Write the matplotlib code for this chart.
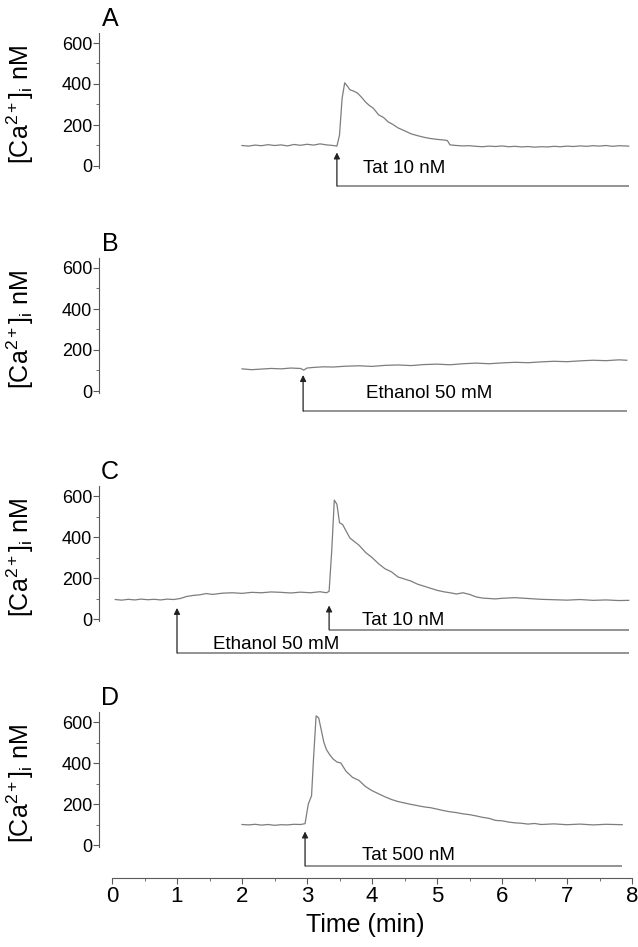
import matplotlib
matplotlib.use("Agg")
import matplotlib.pyplot as plt
from matplotlib.ticker import MultipleLocator, FixedLocator

plt.rcParams['font.family'] = ['Liberation Sans', 'DejaVu Sans']
plt.rcParams['mathtext.fontset'] = 'custom'
plt.rcParams['mathtext.rm'] = 'Liberation Sans'
plt.rcParams['mathtext.it'] = 'Liberation Sans:italic'

# traces, [Ca2+]i in nM against time in min
tA = [2.0, 2.1, 2.2, 2.3, 2.4, 2.5, 2.6, 2.7, 2.8, 2.9, 3.0, 3.1, 3.2, 3.3, 3.4, 3.46,
      3.5, 3.54, 3.58, 3.62, 3.66, 3.72, 3.78, 3.84, 3.9, 3.96, 4.02, 4.1, 4.18, 4.25,
      4.32, 4.4, 4.5, 4.6, 4.7, 4.8, 4.9, 5.0, 5.1, 5.16, 5.2, 5.3, 5.4, 5.5, 5.6, 5.7,
      5.8, 5.9, 6.0, 6.1, 6.2, 6.3, 6.4, 6.5, 6.6, 6.7, 6.8, 6.9, 7.0, 7.1, 7.2, 7.3,
      7.4, 7.5, 7.6, 7.7, 7.8, 7.95]
cA = [100, 97, 102, 99, 104, 100, 103, 98, 105, 101, 106, 102, 108, 103, 100, 97,
      150, 330, 406, 390, 372, 365, 355, 335, 312, 295, 282, 250, 236, 215,
      203, 186, 172, 157, 148, 140, 134, 130, 127, 124, 103, 100, 98, 99, 96, 94,
      97, 95, 98, 94, 96, 93, 95, 92, 94, 93, 96, 94, 97, 95, 98, 96,
      99, 97, 100, 96, 99, 97]

tB = [2.0, 2.15, 2.3, 2.45, 2.6, 2.75, 2.9, 2.95, 3.0, 3.1, 3.25, 3.4, 3.6, 3.8, 4.0,
      4.2, 4.4, 4.6, 4.8, 5.0, 5.2, 5.4, 5.6, 5.8, 6.0, 6.2, 6.4, 6.6, 6.8, 7.0, 7.2,
      7.4, 7.6, 7.8, 7.92]
cB = [108, 104, 107, 110, 108, 112, 110, 102, 112, 115, 118, 117, 121, 123, 120,
      125, 127, 124, 129, 131, 128, 133, 136, 133, 137, 140, 138, 142, 145, 143, 147,
      150, 148, 152, 150]

tC = [0.05, 0.15, 0.25, 0.35, 0.45, 0.55, 0.65, 0.75, 0.85, 0.95, 1.05, 1.15, 1.25,
      1.35, 1.45, 1.55, 1.7, 1.85, 2.0, 2.15, 2.3, 2.45, 2.6, 2.75, 2.9, 3.05, 3.2,
      3.3, 3.34, 3.38, 3.42, 3.46, 3.5, 3.55, 3.6, 3.66, 3.72, 3.8, 3.9, 4.0, 4.1,
      4.2, 4.3, 4.4, 4.5, 4.6, 4.7, 4.8, 4.9, 5.0, 5.1, 5.2, 5.3, 5.4, 5.5, 5.6, 5.7,
      5.8, 5.9, 6.0, 6.2, 6.4, 6.6, 6.8, 7.0, 7.2, 7.4, 7.6, 7.8, 7.95]
cC = [95, 92, 96, 93, 97, 94, 96, 93, 97, 95, 100, 110, 115, 118, 124, 120, 126, 128,
      125, 130, 128, 132, 130, 127, 131, 128, 133, 128, 135, 330, 580, 560, 470, 460,
      430, 395, 380, 360, 325, 300, 270, 245, 230, 205, 195, 185, 170, 160, 150, 140,
      133, 128, 122, 128, 120, 108, 102, 100, 98, 101, 104, 100, 96, 94, 92, 95, 91,
      93, 90, 91]

tD = [2.0, 2.1, 2.2, 2.3, 2.4, 2.5, 2.6, 2.7, 2.8, 2.9, 2.97, 3.02, 3.07, 3.1, 3.14,
      3.18, 3.22, 3.26, 3.3, 3.35, 3.4, 3.46, 3.52, 3.6, 3.7, 3.8, 3.9, 4.0, 4.1, 4.2,
      4.3, 4.4, 4.5, 4.6, 4.7, 4.8, 4.9, 5.0, 5.1, 5.2, 5.3, 5.4, 5.5, 5.6, 5.7, 5.8,
      5.9, 6.0, 6.1, 6.2, 6.3, 6.4, 6.5, 6.6, 6.8, 7.0, 7.2, 7.4, 7.6, 7.85]
cD = [100, 98, 101, 97, 100, 96, 99, 98, 101, 100, 104, 200, 240, 420, 630, 620, 560,
      500, 465, 440, 420, 405, 400, 360, 330, 315, 285, 265, 250, 235, 222, 212, 205,
      198, 192, 186, 182, 175, 168, 162, 158, 152, 148, 142, 135, 130, 120, 118, 112,
      108, 106, 102, 105, 100, 103, 99, 102, 98, 101, 99]

panel_letters = ['A', 'B', 'C', 'D']
traces = [(tA, cA), (tB, cB), (tC, cC), (tD, cD)]

# stimuli: (label, start, end, level of bar, arrow tip, label x, label y)
stimA = [('Tat 10 nM', 3.46, 7.95, -98, 66, 3.86, -10)]
stimB = [('Ethanol 50 mM', 2.94, 7.92, -98, 78, 3.9, -10)]
stimC = [('Tat 10 nM', 3.34, 7.95, -52, 66, 3.85, -5),
         ('Ethanol 50 mM', 1.0, 7.95, -166, 54, 1.55, -125)]
stimD = [('Tat 500 nM', 2.97, 7.85, -102, 66, 3.85, -49)]
stims = [stimA, stimB, stimC, stimD]

zero_px = [166, 391, 619, 845]
ppn = 0.205            # pixels per nM
ylo, yhi = -200, 660
W, H = 638, 947

trace_col = '#7d7d7d'
bar_col = '#8a8a8a'
axis_col = '#5a5a5a'

fig = plt.figure(figsize=(W / 100, H / 100), dpi=100)

for i in range(4):
    h = (yhi - ylo) * ppn
    bottom = 1 - (zero_px[i] - ylo * ppn) / H
    ax = fig.add_axes([99 / W, bottom, 533 / W, h / H])
    ax.set_xlim(-0.2, 8.0)
    ax.set_ylim(ylo, yhi)
    ax.patch.set_alpha(0)

    t, c = traces[i]
    ax.plot(t, c, color=trace_col, lw=0.9)

    for lab, t0, t1, lev, tip, lx, ly in stims[i]:
        ax.plot([t0, t1], [lev, lev], color=bar_col, lw=1.3, solid_capstyle='butt')
        ax.annotate('', xy=(t0, tip), xytext=(t0, lev),
                    arrowprops=dict(arrowstyle='-|>', color='#222222', lw=0.9,
                                    mutation_scale=9, shrinkA=0, shrinkB=0))
        ax.text(lx, ly, lab, fontsize=13.5, va='center', ha='left')

    ax.text(-0.03, 716, panel_letters[i], fontsize=18, ha='center', va='center')

    for s in ['top', 'right']:
        ax.spines[s].set_visible(False)
    ax.spines['left'].set_bounds(-10, 650)
    ax.spines['left'].set_color(axis_col)
    ax.yaxis.set_major_locator(FixedLocator([0, 200, 400, 600]))
    ax.yaxis.set_minor_locator(FixedLocator([100, 300, 500]))
    ax.tick_params(axis='y', which='major', direction='out', length=4, width=0.8,
                   color=axis_col, labelsize=13, pad=1)
    ax.tick_params(axis='y', which='minor', direction='out', length=2, width=0.6,
                   color=axis_col)
    ax.set_ylabel('[Ca$^{2+}$]$_{\\mathrm{i}}$ nM', fontsize=18)
    ax.yaxis.set_label_coords(-0.118, (300 - ylo) / (yhi - ylo))

    if i < 3:
        ax.spines['bottom'].set_visible(False)
        ax.set_xticks([])
    else:
        ax.spines['bottom'].set_position(('data', -161))
        ax.spines['bottom'].set_bounds(0, 8)
        ax.spines['bottom'].set_color(axis_col)
        ax.set_xticks(range(9))
        ax.xaxis.set_minor_locator(MultipleLocator(0.5))
        ax.tick_params(axis='x', which='major', direction='out', length=4, width=0.8,
                       color=axis_col, labelsize=16, pad=2)
        ax.tick_params(axis='x', which='minor', direction='out', length=2, width=0.6,
                       color=axis_col)
        ax.set_xlabel('Time (min)', fontsize=18, labelpad=4)

fig.savefig('out.png', dpi=100)
